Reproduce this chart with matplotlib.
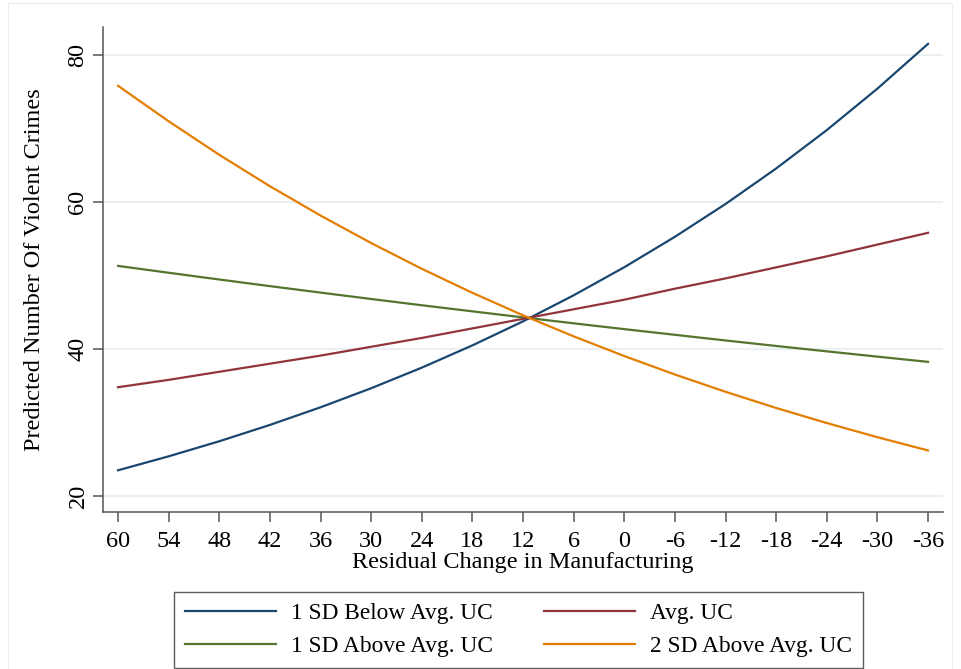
import numpy as np
import matplotlib
matplotlib.use('Agg')
import matplotlib.pyplot as plt
from matplotlib.patches import Rectangle

plt.rcParams['font.family'] = ['Liberation Serif', 'DejaVu Serif']

# residual change in manufacturing (x), predicted violent crimes per group
resid = [60, 54, 48, 42, 36, 30, 24, 18, 12, 6, 0, -6, -12, -18, -24, -30, -36]
below1 = [23.5, 25.4, 27.45, 29.67, 32.07, 34.66, 37.46, 40.49, 43.76, 47.3,
          51.12, 55.26, 59.72, 64.55, 69.77, 75.41, 81.5]
avg = [34.8, 35.8, 36.9, 38.0, 39.1, 40.3, 41.5, 42.8, 44.1, 45.4,
       46.7, 48.2, 49.6, 51.1, 52.6, 54.2, 55.8]
above1 = [51.3, 50.37, 49.45, 48.55, 47.67, 46.8, 45.95, 45.12, 44.3, 43.49,
          42.7, 41.93, 41.16, 40.41, 39.68, 38.96, 38.25]
above2 = [75.8, 70.97, 66.41, 62.14, 58.15, 54.41, 50.91, 47.64, 44.58, 41.72,
          39.04, 36.53, 34.18, 31.98, 29.93, 28.0, 26.2]
yticks = [20, 40, 60, 80]

series = [
    (below1, '#1a476f', '1 SD Below Avg. UC'),
    (above1, '#55752f', '1 SD Above Avg. UC'),
    (avg, '#90353b', 'Avg. UC'),
    (above2, '#e37e00', '2 SD Above Avg. UC'),
]
fs = 17.5

fig = plt.figure(figsize=(9.61, 6.69), dpi=100)
ax = fig.add_axes([0.1072, 0.2347, 0.8741, 0.7250])

# faint outer frame of the graph region
fig.patches.append(Rectangle((8 / 961, -0.1), 944 / 961, 1.0955, transform=fig.transFigure,
                             fill=False, edgecolor='#ececec', linewidth=0.8))

for y in yticks:
    ax.axhline(y, color='#eaf0f2', linewidth=1.5, zorder=0)

handles = []
for vals, col, lab in series:
    h, = ax.plot(resid, vals, color=col, linewidth=1.6, label=lab)
    handles.append(h)

ax.set_xlim(61.78, -37.78)
ax.set_ylim(17.83, 83.8)
ax.set_xticks(resid)
ax.set_xticklabels([str(v) for v in resid])
ax.set_yticks(yticks)
ax.set_yticklabels([str(v) for v in yticks], rotation=90, va='center')

for side in ['top', 'right']:
    ax.spines[side].set_visible(False)
for side in ['left', 'bottom']:
    ax.spines[side].set_color('#555555')
    ax.spines[side].set_linewidth(1.1)
ax.tick_params(axis='both', direction='out', length=7, width=1.1, color='#555555',
               labelsize=fs)
ax.tick_params(axis='x', pad=6.5)
ax.tick_params(axis='y', pad=3.5)

ax.set_xlabel('Residual Change in Manufacturing', fontsize=fs, labelpad=0)
ax.set_ylabel('Predicted Number Of Violent Crimes', fontsize=fs, labelpad=16)

leg = fig.legend(handles=handles, labels=[s[2] for s in series], ncol=2,
                 loc='center', bbox_to_anchor=(0.5395, 0.0585), fontsize=16.8,
                 handlelength=3.9, handletextpad=0.65, columnspacing=2.2,
                 labelspacing=0.5, borderpad=0.45, fancybox=False)
leg.get_frame().set_edgecolor('#333333')
leg.get_frame().set_linewidth(1.0)

fig.savefig('out.png', dpi=100)
